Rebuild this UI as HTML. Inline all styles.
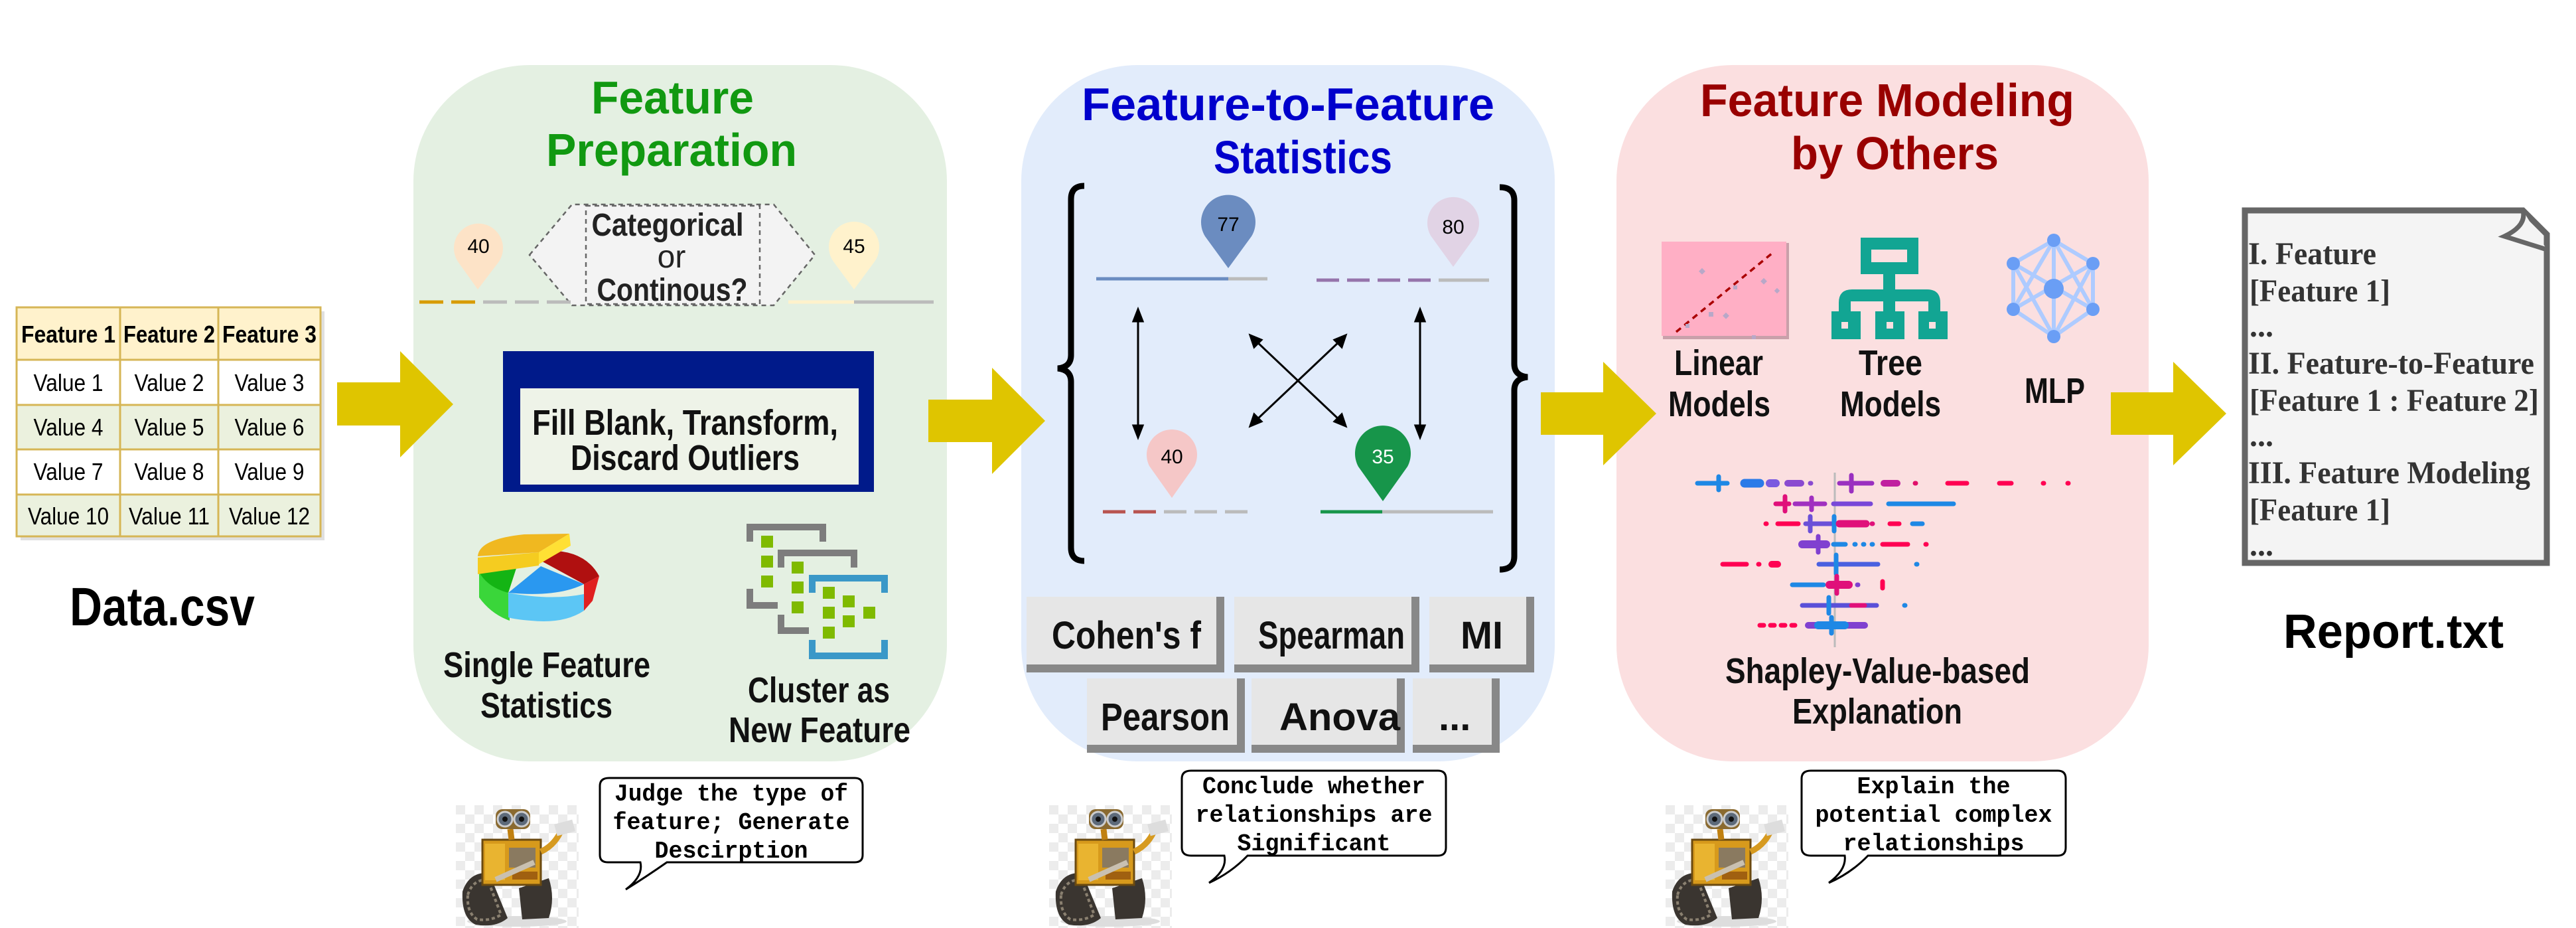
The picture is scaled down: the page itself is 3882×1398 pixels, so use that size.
<!DOCTYPE html>
<html><head><meta charset="utf-8"><style>html,body{margin:0;padding:0;background:#fff}svg{display:block}</style></head>
<body>
<svg xmlns="http://www.w3.org/2000/svg" xmlns:xlink="http://www.w3.org/1999/xlink" width="3882" height="1398" viewBox="0 0 3882 1398">
<defs>
<pattern id="chk" width="28" height="28" patternUnits="userSpaceOnUse"><rect width="28" height="28" fill="#fff"/><rect width="14" height="14" fill="#ececec"/><rect x="14" y="14" width="14" height="14" fill="#ececec"/></pattern>
<g id="robot">
<rect x="0" y="0" width="185" height="185" fill="url(#chk)"/>
<ellipse cx="92" cy="175" rx="75" ry="8" fill="#ddd"/>
<path d="M10 130 Q20 100 50 102 L78 170 Q60 185 30 180 Q8 170 10 130Z" fill="#3a3530"/>
<path d="M18 135 Q25 112 48 112 L68 165 Q52 175 32 172 Q16 162 18 135Z" fill="none" stroke="#8a8070" stroke-width="4" stroke-dasharray="5 4"/>
<path d="M95 125 L140 110 Q150 140 140 170 L100 172Z" fill="#3a3530"/>
<rect x="40" y="52" width="88" height="68" fill="#d79a1c" stroke="#6b4a10" stroke-width="3"/>
<rect x="44" y="58" width="30" height="55" fill="#e9b430"/>
<rect x="80" y="64" width="40" height="30" fill="#8a7a60"/>
<rect x="85" y="100" width="38" height="12" fill="#a06010"/>
<path d="M60 112 L118 86" stroke="#c9c0b0" stroke-width="8"/>
<path d="M128 70 Q150 60 160 35" stroke="#d69a20" stroke-width="9" fill="none"/>
<rect x="150" y="25" width="28" height="18" fill="#ddd" transform="rotate(-15 164 34)"/>
<path d="M84 52 L82 36" stroke="#c08010" stroke-width="9"/>
<rect x="60" y="6" width="52" height="30" rx="10" fill="#8a6a30"/>
<circle cx="74" cy="21" r="11" fill="#5d6a7a" stroke="#ccc" stroke-width="3"/>
<circle cx="99" cy="21" r="11" fill="#5d6a7a" stroke="#ccc" stroke-width="3"/>
<circle cx="74" cy="21" r="4" fill="#111"/><circle cx="99" cy="21" r="4" fill="#111"/>
</g>
</defs>

<!-- Data table -->
<rect x="31" y="469" width="458" height="345" fill="#ccc" opacity="0.6"/>
<rect x="25" y="463" width="458" height="79" fill="#fff2cc"/>
<rect x="25" y="542" width="458" height="68" fill="#fff"/>
<rect x="25" y="610" width="458" height="67" fill="#ebf1de"/>
<rect x="25" y="677" width="458" height="68" fill="#fff"/>
<rect x="25" y="745" width="458" height="63" fill="#ebf1de"/>
<g stroke="#d6b656" stroke-width="3" fill="none">
<rect x="25" y="463" width="458" height="345"/>
<line x1="181" y1="463" x2="181" y2="808"/><line x1="329" y1="463" x2="329" y2="808"/>
<line x1="25" y1="542" x2="483" y2="542"/><line x1="25" y1="610" x2="483" y2="610"/>
<line x1="25" y1="677" x2="483" y2="677"/><line x1="25" y1="745" x2="483" y2="745"/>
</g>
<g font-family="Liberation Sans, sans-serif" font-size="36" text-anchor="middle" fill="#000">
<g font-weight="bold"><text x="103" y="516" textLength="142" lengthAdjust="spacingAndGlyphs">Feature 1</text><text x="255" y="516" textLength="138" lengthAdjust="spacingAndGlyphs">Feature 2</text><text x="406" y="516" textLength="142" lengthAdjust="spacingAndGlyphs">Feature 3</text></g>
<text x="103" y="589" textLength="105" lengthAdjust="spacingAndGlyphs">Value 1</text><text x="255" y="589" textLength="105" lengthAdjust="spacingAndGlyphs">Value 2</text><text x="406" y="589" textLength="105" lengthAdjust="spacingAndGlyphs">Value 3</text>
<text x="103" y="656" textLength="105" lengthAdjust="spacingAndGlyphs">Value 4</text><text x="255" y="656" textLength="105" lengthAdjust="spacingAndGlyphs">Value 5</text><text x="406" y="656" textLength="105" lengthAdjust="spacingAndGlyphs">Value 6</text>
<text x="103" y="723" textLength="105" lengthAdjust="spacingAndGlyphs">Value 7</text><text x="255" y="723" textLength="105" lengthAdjust="spacingAndGlyphs">Value 8</text><text x="406" y="723" textLength="105" lengthAdjust="spacingAndGlyphs">Value 9</text>
<text x="103" y="790" textLength="122" lengthAdjust="spacingAndGlyphs">Value 10</text><text x="255" y="790" textLength="122" lengthAdjust="spacingAndGlyphs">Value 11</text><text x="406" y="790" textLength="122" lengthAdjust="spacingAndGlyphs">Value 12</text>
</g>
<text x="105" y="942" font-family="Liberation Sans, sans-serif" font-weight="bold" font-size="82" textLength="279" lengthAdjust="spacingAndGlyphs">Data.csv</text>

<!-- Panels -->
<rect x="623" y="98" width="804" height="1049" rx="175" fill="#e4f0e2"/>
<rect x="1539" y="98" width="804" height="1049" rx="175" fill="#e2ecfb"/>
<rect x="2436" y="98" width="802" height="1049" rx="175" fill="#fbdfe0"/>

<!-- Arrows -->
<g fill="#dfc500">
<polygon points="508,576 603,576 603,529 683,609 603,689 603,641 508,641"/>
<polygon points="1399,602 1495,602 1495,554 1575,634 1495,714 1495,666 1399,666"/>
<polygon points="2322,591 2416,591 2416,545 2496,623 2416,701 2416,655 2322,655"/>
<polygon points="3181,591 3275,591 3275,545 3355,623 3275,701 3275,655 3181,655"/>
</g>

<g font-family="Liberation Sans, sans-serif" font-weight="bold" font-size="70" text-anchor="start">
<text x="891" y="171" fill="#119911" textLength="245" lengthAdjust="spacingAndGlyphs">Feature</text>
<text x="823" y="250" fill="#119911" textLength="378" lengthAdjust="spacingAndGlyphs">Preparation</text>
<text x="1630" y="181" fill="#0000cc" textLength="622" lengthAdjust="spacingAndGlyphs">Feature-to-Feature</text>
<text x="1829" y="261" fill="#0000cc" textLength="269" lengthAdjust="spacingAndGlyphs">Statistics</text>
<text x="2562" y="175" fill="#990000" textLength="564" lengthAdjust="spacingAndGlyphs">Feature Modeling</text>
<text x="2699" y="255" fill="#990000" textLength="313" lengthAdjust="spacingAndGlyphs">by Others</text>
</g>

<!-- Green panel contents -->
<path d="M720 436 L690 394 A37 37 0 1 1 752 394 Z" fill="#fde3c7"/>
<text x="721" y="381" font-family="Liberation Sans, sans-serif" font-size="30" text-anchor="middle">40</text>
<path d="M1287 436 L1256 394 A38 38 0 1 1 1318 394 Z" fill="#fff2cc"/>
<text x="1287" y="381" font-family="Liberation Sans, sans-serif" font-size="30" text-anchor="middle">45</text>
<polygon points="798,384 862,308 1166,308 1228,384 1166,460 862,460" fill="#f3f3f3" stroke="#666" stroke-width="2.5" stroke-dasharray="7 6"/>
<rect x="883" y="310" width="262" height="148" fill="#f3f3f3" stroke="#666" stroke-width="2.5" stroke-dasharray="7 6"/>
<g font-family="Liberation Sans, sans-serif" font-size="48" fill="#222" text-anchor="middle">
<text x="1006" y="355" font-weight="bold" textLength="229" lengthAdjust="spacingAndGlyphs">Categorical</text>
<text x="1012" y="403">or</text>
<text x="1013" y="453" font-weight="bold" textLength="227" lengthAdjust="spacingAndGlyphs">Continous?</text>
</g>
<g stroke-width="5">
<line x1="632" y1="455" x2="668" y2="455" stroke="#d79b00"/><line x1="680" y1="455" x2="716" y2="455" stroke="#d79b00"/>
<line x1="728" y1="455" x2="764" y2="455" stroke="#bbb"/><line x1="776" y1="455" x2="812" y2="455" stroke="#bbb"/><line x1="824" y1="455" x2="860" y2="455" stroke="#bbb"/>
<line x1="1188" y1="455" x2="1287" y2="455" stroke="#fff2cc"/><line x1="1287" y1="455" x2="1407" y2="455" stroke="#bbb"/>
</g>
<rect x="758" y="529" width="559" height="212" fill="#001a8a"/>
<rect x="784" y="585" width="510" height="145" fill="#eef3e8"/>
<g font-family="Liberation Sans, sans-serif" font-weight="bold" font-size="54" fill="#111" text-anchor="start">
<text x="802" y="655" textLength="461" lengthAdjust="spacingAndGlyphs">Fill Blank, Transform,</text>
<text x="860" y="708" textLength="345" lengthAdjust="spacingAndGlyphs">Discard Outliers</text>
<text x="668" y="1020" textLength="312" lengthAdjust="spacingAndGlyphs">Single Feature</text>
<text x="724" y="1081" textLength="199" lengthAdjust="spacingAndGlyphs">Statistics</text>
<text x="1127" y="1058" textLength="214" lengthAdjust="spacingAndGlyphs">Cluster as</text>
<text x="1098" y="1118" textLength="274" lengthAdjust="spacingAndGlyphs">New Feature</text>
</g>
<!-- pie -->
<g>
<path d="M722 862 L722 900 Q740 925 768 935 L768 895Z" fill="#3ad63a"/>
<path d="M766 893 Q830 905 880 895 L880 920 Q850 940 800 935 Q775 933 766 930Z" fill="#5cc6f5"/>
<path d="M766 893 L815 853 L880 880 Q840 900 766 893Z" fill="#2a98f0"/>
<path d="M722 862 L780 850 L766 893 Q735 885 722 862Z" fill="#14b414"/>
<path d="M880 880 L880 920 L893 905 L903 868 Z" fill="#e02020"/>
<path d="M812 843 L815 830 Q880 825 903 868 L880 880 Z" fill="#b01010"/>
<path d="M720 840 L720 865 L812 852 L812 832 Z" fill="#f5cc20"/>
<path d="M720 838 Q722 812 790 805 L858 804 L812 832 Z" fill="#f0b820"/>
<path d="M812 832 L858 804 L860 822 L812 850Z" fill="#ffe034"/>
</g>
<!-- cluster icon -->
<g fill="none" stroke-width="10">
<path d="M1130 816 L1130 794 L1240 794 L1240 816" stroke="#7d7d7d"/>
<path d="M1130 887 L1130 912 L1172 912" stroke="#7d7d7d"/>
<path d="M1177 855 L1177 833 L1287 833 L1287 855" stroke="#7d7d7d"/>
<path d="M1177 926 L1177 950 L1219 950" stroke="#7d7d7d"/>
<path d="M1224 893 L1224 871 L1333 871 L1333 893" stroke="#3a98c8"/>
<path d="M1224 964 L1224 988 L1333 988 L1333 964" stroke="#3a98c8"/>
</g>
<g fill="#7fba00">
<rect x="1147" y="807" width="18" height="18"/><rect x="1147" y="837" width="18" height="18"/><rect x="1147" y="867" width="18" height="18"/>
<rect x="1193" y="846" width="18" height="18"/><rect x="1193" y="876" width="18" height="18"/><rect x="1193" y="906" width="18" height="18"/>
<rect x="1240" y="884" width="18" height="18"/><rect x="1240" y="914" width="18" height="18"/><rect x="1240" y="944" width="18" height="18"/>
<rect x="1270" y="897" width="18" height="18"/><rect x="1270" y="927" width="18" height="18"/><rect x="1301" y="914" width="18" height="18"/>
</g>

<!-- Blue panel contents -->
<path d="M1634 280 Q1614 280 1614 300 L1614 535 Q1614 553 1594 555 Q1614 557 1614 575 L1614 825 Q1614 845 1634 845" fill="none" stroke="#000" stroke-width="9"/>
<path d="M2260 282 Q2282 282 2282 302 L2282 548 Q2282 566 2302 568 Q2282 570 2282 588 L2282 838 Q2282 858 2260 858" fill="none" stroke="#000" stroke-width="9"/>
<path d="M1851 404 L1816 356 A41 41 0 1 1 1886 356 Z" fill="#6b8cc0"/>
<text x="1851" y="348" font-family="Liberation Sans, sans-serif" font-size="30" text-anchor="middle">77</text>
<line x1="1652" y1="420" x2="1851" y2="420" stroke="#6b8cc0" stroke-width="5"/><line x1="1851" y1="420" x2="1910" y2="420" stroke="#bbb" stroke-width="5"/>
<path d="M2190 402 L2156 355 A39 39 0 1 1 2224 355 Z" fill="#e1d3e5"/>
<text x="2190" y="352" font-family="Liberation Sans, sans-serif" font-size="30" text-anchor="middle">80</text>
<g stroke-width="5"><line x1="1984" y1="422" x2="2018" y2="422" stroke="#9674ab"/><line x1="2030" y1="422" x2="2064" y2="422" stroke="#9674ab"/><line x1="2076" y1="422" x2="2110" y2="422" stroke="#9674ab"/><line x1="2122" y1="422" x2="2156" y2="422" stroke="#9674ab"/><line x1="2168" y1="422" x2="2244" y2="422" stroke="#bbb"/></g>
<path d="M1766 750 L1732 702 A38 38 0 1 1 1800 702 Z" fill="#f5c7c7"/>
<text x="1766" y="698" font-family="Liberation Sans, sans-serif" font-size="30" text-anchor="middle">40</text>
<g stroke-width="5"><line x1="1662" y1="771" x2="1696" y2="771" stroke="#b85450"/><line x1="1708" y1="771" x2="1742" y2="771" stroke="#b85450"/><line x1="1754" y1="771" x2="1788" y2="771" stroke="#bbb"/><line x1="1800" y1="771" x2="1834" y2="771" stroke="#bbb"/><line x1="1846" y1="771" x2="1880" y2="771" stroke="#bbb"/></g>
<path d="M2084 755 L2047 703 A42 42 0 1 1 2121 703 Z" fill="#17954a"/>
<text x="2084" y="698" font-family="Liberation Sans, sans-serif" font-size="30" text-anchor="middle" fill="#fff">35</text>
<line x1="1990" y1="771" x2="2083" y2="771" stroke="#17954a" stroke-width="5"/><line x1="2083" y1="771" x2="2250" y2="771" stroke="#bbb" stroke-width="5"/>
<g stroke="#000" stroke-width="3" fill="#000">
<line x1="1715" y1="478" x2="1715" y2="647"/>
<polygon points="1715,466 1708,484 1722,484"/><polygon points="1715,659 1708,641 1722,641"/>
<line x1="2140" y1="478" x2="2140" y2="647"/>
<polygon points="2140,466 2133,484 2147,484"/><polygon points="2140,659 2133,641 2147,641"/>
<line x1="1892" y1="513" x2="2020" y2="634"/><line x1="2020" y1="513" x2="1892" y2="634"/>
<polygon points="1884,505 1890,523 1901,512"/><polygon points="2028,642 2011,635 2022,624"/>
<polygon points="2028,505 2011,512 2022,523"/><polygon points="1884,642 1890,624 1901,635"/>
</g>
<!-- buttons -->
<g>
<g transform="translate(1547,899)"><rect width="298" height="114" fill="#888"/><rect width="286" height="102" fill="#e6e6e6"/></g>
<g transform="translate(1860,899)"><rect width="279" height="114" fill="#888"/><rect width="267" height="102" fill="#e6e6e6"/></g>
<g transform="translate(2154,899)"><rect width="158" height="114" fill="#888"/><rect width="146" height="102" fill="#e6e6e6"/></g>
<g transform="translate(1638,1022)"><rect width="238" height="112" fill="#888"/><rect width="226" height="100" fill="#e6e6e6"/></g>
<g transform="translate(1886,1022)"><rect width="231" height="112" fill="#888"/><rect width="219" height="100" fill="#e6e6e6"/></g>
<g transform="translate(2129,1022)"><rect width="131" height="112" fill="#888"/><rect width="119" height="100" fill="#e6e6e6"/></g>
</g>
<g font-family="Liberation Sans, sans-serif" font-weight="bold" font-size="58" fill="#111">
<text x="1585" y="977" textLength="225" lengthAdjust="spacingAndGlyphs">Cohen's f</text>
<text x="1896" y="977" textLength="221" lengthAdjust="spacingAndGlyphs">Spearman</text>
<text x="2201" y="977" textLength="64" lengthAdjust="spacingAndGlyphs">MI</text>
<text x="1659" y="1100" textLength="194" lengthAdjust="spacingAndGlyphs">Pearson</text>
<text x="1928" y="1100" textLength="182" lengthAdjust="spacingAndGlyphs">Anova</text>
<text x="2168" y="1100">...</text>
</g>

<!-- Pink panel contents -->
<rect x="2506" y="366" width="190" height="145" fill="#c9a0aa"/>
<rect x="2504" y="364" width="188" height="142" fill="#ffafc5"/>
<line x1="2526" y1="500" x2="2670" y2="382" stroke="#a00" stroke-width="3.5" stroke-dasharray="9 7"/>
<g fill="#b8a8c8"><rect x="2562" y="405" width="7" height="7" transform="rotate(45 2565 408)"/><rect x="2655" y="420" width="7" height="7" transform="rotate(45 2658 423)"/><rect x="2575" y="470" width="7" height="7"/><rect x="2612" y="430" width="6" height="6"/><rect x="2598" y="472" width="7" height="7" transform="rotate(45 2601 475)"/><rect x="2640" y="505" width="6" height="6"/><rect x="2540" y="488" width="6" height="6"/><rect x="2675" y="435" width="6" height="6" transform="rotate(45 2678 438)"/></g>
<g fill="#12a593">
<path d="M2804 358 h87 v55 h-87z M2820 376 v19 h54 v-19z" fill-rule="evenodd"/>
<rect x="2838" y="412" width="18" height="58"/>
<path d="M2771 470 v-14 q0 -20 20 -20 h113 q20 0 20 20 v14 h-18 v-16 h-117 v16z"/>
<path d="M2760 469 h44 v42 h-44z M2775 485 v10 h10 v-10z" fill-rule="evenodd"/>
<path d="M2826 469 h44 v42 h-44z M2843 485 v10 h10 v-10z" fill-rule="evenodd"/>
<path d="M2891 469 h44 v42 h-44z M2907 485 v10 h10 v-10z" fill-rule="evenodd"/>
</g>
<g stroke="#aecbff" stroke-width="6">
<line x1="3095" y1="362" x2="3034" y2="397"/><line x1="3095" y1="362" x2="3154" y2="397"/><line x1="3034" y1="397" x2="3034" y2="466"/><line x1="3154" y1="397" x2="3154" y2="466"/><line x1="3034" y1="466" x2="3095" y2="507"/><line x1="3154" y1="466" x2="3095" y2="507"/>
<line x1="3095" y1="362" x2="3095" y2="507"/><line x1="3034" y1="397" x2="3154" y2="466"/><line x1="3154" y1="397" x2="3034" y2="466"/>
<line x1="3095" y1="362" x2="3034" y2="466"/><line x1="3095" y1="362" x2="3154" y2="466"/><line x1="3034" y1="397" x2="3095" y2="507"/><line x1="3154" y1="397" x2="3095" y2="507"/>
</g>
<g fill="#6a9ef5"><circle cx="3095" cy="362" r="10"/><circle cx="3034" cy="397" r="10"/><circle cx="3154" cy="397" r="10"/><circle cx="3095" cy="435" r="15"/><circle cx="3034" cy="466" r="10"/><circle cx="3154" cy="466" r="10"/><circle cx="3095" cy="507" r="10"/></g>
<g font-family="Liberation Sans, sans-serif" font-weight="bold" font-size="54" fill="#111">
<text x="2523" y="565" textLength="134" lengthAdjust="spacingAndGlyphs">Linear</text>
<text x="2514" y="627" textLength="154" lengthAdjust="spacingAndGlyphs">Models</text>
<text x="2801" y="565" textLength="96" lengthAdjust="spacingAndGlyphs">Tree</text>
<text x="2773" y="627" textLength="152" lengthAdjust="spacingAndGlyphs">Models</text>
<text x="3051" y="607" textLength="91" lengthAdjust="spacingAndGlyphs">MLP</text>
<text x="2600" y="1029" textLength="459" lengthAdjust="spacingAndGlyphs">Shapley-Value-based</text>
<text x="2701" y="1090" textLength="256" lengthAdjust="spacingAndGlyphs">Explanation</text>
</g>
<!-- SHAP -->
<line x1="2765" y1="712" x2="2765" y2="975" stroke="#bbb" stroke-width="3"/>
<g stroke-linecap="round" fill="none">
<g stroke-width="7">
<line x1="2558" y1="728" x2="2603" y2="728" stroke="#1e88e5"/><line x1="2629" y1="728" x2="2652" y2="728" stroke="#2a7ae8" stroke-width="13"/><line x1="2667" y1="728" x2="2676" y2="728" stroke="#7a5ae0" stroke-width="12"/><line x1="2694" y1="728" x2="2714" y2="728" stroke="#8a4ad0" stroke-width="10"/><line x1="2728" y1="728" x2="2729" y2="728" stroke="#8a4ad0"/><line x1="2772" y1="728" x2="2821" y2="728" stroke="#9a30c0"/><line x1="2839" y1="728" x2="2859" y2="728" stroke="#c020a0" stroke-width="10"/><line x1="2886" y1="728" x2="2887" y2="728" stroke="#e0106a"/><line x1="2935" y1="728" x2="2964" y2="728" stroke="#ff0052"/><line x1="3013" y1="728" x2="3031" y2="728" stroke="#ff0052"/><line x1="3079" y1="728" x2="3080" y2="728" stroke="#ff0052"/><line x1="3116" y1="728" x2="3117" y2="728" stroke="#ff0052"/>
<line x1="2590" y1="718" x2="2590" y2="738" stroke="#1e88e5"/><line x1="2790" y1="716" x2="2790" y2="740" stroke="#9a30c0"/>
<line x1="2676" y1="759" x2="2696" y2="759" stroke="#e0107a"/><line x1="2690" y1="748" x2="2690" y2="770" stroke="#e0107a"/><line x1="2705" y1="759" x2="2750" y2="759" stroke="#a030c0"/><line x1="2730" y1="750" x2="2730" y2="768" stroke="#a030c0"/><line x1="2763" y1="759" x2="2819" y2="759" stroke="#7848d8"/><line x1="2846" y1="759" x2="2944" y2="759" stroke="#1e88e5"/>
<line x1="2661" y1="789" x2="2662" y2="789" stroke="#ff0052"/><line x1="2679" y1="789" x2="2710" y2="789" stroke="#ff0052"/><line x1="2721" y1="789" x2="2768" y2="789" stroke="#6a50d8"/><line x1="2728" y1="778" x2="2728" y2="800" stroke="#6a50d8"/><line x1="2764" y1="778" x2="2764" y2="800" stroke="#1e88e5"/><line x1="2772" y1="789" x2="2812" y2="789" stroke="#e0107a" stroke-width="11"/><line x1="2821" y1="789" x2="2822" y2="789" stroke="#e0107a"/><line x1="2848" y1="789" x2="2862" y2="789" stroke="#ff0052"/><line x1="2882" y1="789" x2="2897" y2="789" stroke="#1e88e5"/>
<line x1="2716" y1="820" x2="2752" y2="820" stroke="#8040d0" stroke-width="12"/><line x1="2740" y1="808" x2="2740" y2="832" stroke="#8040d0"/><line x1="2763" y1="820" x2="2781" y2="820" stroke="#1e88e5"/><line x1="2795" y1="820" x2="2824" y2="820" stroke="#1e88e5" stroke-dasharray="1 12"/><line x1="2837" y1="820" x2="2875" y2="820" stroke="#ff0052"/><line x1="2902" y1="820" x2="2903" y2="820" stroke="#ff0052"/>
<line x1="2596" y1="850" x2="2632" y2="850" stroke="#ff0052"/><line x1="2650" y1="850" x2="2651" y2="850" stroke="#ff0052"/><line x1="2670" y1="850" x2="2679" y2="850" stroke="#ff0052" stroke-width="10"/><line x1="2741" y1="850" x2="2830" y2="850" stroke="#4a60e0"/><line x1="2767" y1="836" x2="2767" y2="864" stroke="#1e88e5"/><line x1="2888" y1="850" x2="2889" y2="850" stroke="#1e88e5"/>
<line x1="2701" y1="881" x2="2748" y2="881" stroke="#1e88e5"/><line x1="2757" y1="881" x2="2786" y2="881" stroke="#e0107a" stroke-width="12"/><line x1="2768" y1="868" x2="2768" y2="894" stroke="#e0107a"/><line x1="2799" y1="881" x2="2800" y2="881" stroke="#8040d0"/><line x1="2837" y1="876" x2="2837" y2="886" stroke="#ff0052"/>
<line x1="2716" y1="912" x2="2828" y2="912" stroke="#5a50d8"/><line x1="2756" y1="900" x2="2756" y2="924" stroke="#1e88e5"/><line x1="2790" y1="912" x2="2810" y2="912" stroke="#e0107a"/><line x1="2870" y1="912" x2="2871" y2="912" stroke="#1e88e5"/>
<line x1="2652" y1="942" x2="2705" y2="942" stroke="#ff0052" stroke-dasharray="6 10"/><line x1="2725" y1="942" x2="2810" y2="942" stroke="#8040d0" stroke-width="10"/><line x1="2760" y1="930" x2="2760" y2="954" stroke="#1e88e5"/><line x1="2740" y1="942" x2="2780" y2="942" stroke="#1e88e5" stroke-width="12"/>
</g>
</g>

<!-- Report doc -->
<path d="M3383 317 L3802 317 L3838 353 L3838 848 L3383 848 Z" fill="#f4f4f4" stroke="#666" stroke-width="9"/>
<path d="M3802 317 Q3808 340 3774 356 L3838 376" fill="#f4f4f4" stroke="#666" stroke-width="7"/>
<g font-family="Liberation Serif, serif" font-weight="bold" font-size="48" fill="#333">
<text x="3388" y="398" textLength="193" lengthAdjust="spacingAndGlyphs">I. Feature</text>
<text x="3390" y="454" textLength="212" lengthAdjust="spacingAndGlyphs">[Feature 1]</text>
<text x="3390" y="507">...</text>
<text x="3388" y="563" textLength="431" lengthAdjust="spacingAndGlyphs">II. Feature-to-Feature</text>
<text x="3390" y="619" textLength="436" lengthAdjust="spacingAndGlyphs">[Feature 1 : Feature 2]</text>
<text x="3390" y="672">...</text>
<text x="3388" y="728" textLength="425" lengthAdjust="spacingAndGlyphs">III. Feature Modeling</text>
<text x="3390" y="784" textLength="212" lengthAdjust="spacingAndGlyphs">[Feature 1]</text>
<text x="3390" y="837">...</text>
</g>
<text x="3441" y="976" font-family="Liberation Sans, sans-serif" font-weight="bold" font-size="72" textLength="332" lengthAdjust="spacingAndGlyphs">Report.txt</text>

<!-- Robots -->
<use xlink:href="#robot" x="687" y="1213"/>
<use xlink:href="#robot" x="1581" y="1213"/>
<use xlink:href="#robot" x="2510" y="1213"/>

<!-- Bubbles -->
<g fill="#fff" stroke="#000" stroke-width="3">
<path d="M918 1172 H1288 Q1300 1172 1300 1184 V1288 Q1300 1299 1288 1299 H1005 Q975 1320 943 1340 Q970 1320 965 1299 H916 Q904 1299 904 1288 V1184 Q904 1172 918 1172Z"/>
<path d="M1795 1161 H2167 Q2179 1161 2179 1173 V1277 Q2179 1289 2167 1289 H1880 Q1855 1315 1822 1330 Q1850 1310 1845 1289 H1795 Q1781 1289 1781 1277 V1173 Q1781 1161 1795 1161Z"/>
<path d="M2729 1161 H3101 Q3113 1161 3113 1173 V1277 Q3113 1289 3101 1289 H2815 Q2790 1315 2756 1330 Q2783 1310 2780 1289 H2729 Q2715 1289 2715 1277 V1173 Q2715 1161 2729 1161Z"/>
</g>
<g font-family="Liberation Mono, monospace" font-size="36" font-weight="bold" fill="#000" text-anchor="middle">
<text x="1102" y="1206" textLength="352" lengthAdjust="spacingAndGlyphs">Judge the type of</text>
<text x="1102" y="1249" textLength="357" lengthAdjust="spacingAndGlyphs">feature; Generate</text>
<text x="1102" y="1292" textLength="231" lengthAdjust="spacingAndGlyphs">Descirption</text>
<text x="1980" y="1195" textLength="336" lengthAdjust="spacingAndGlyphs">Conclude whether</text>
<text x="1980" y="1238" textLength="357" lengthAdjust="spacingAndGlyphs">relationships are</text>
<text x="1980" y="1281" textLength="231" lengthAdjust="spacingAndGlyphs">Significant</text>
<text x="2914" y="1195" textLength="231" lengthAdjust="spacingAndGlyphs">Explain the</text>
<text x="2914" y="1238" textLength="357" lengthAdjust="spacingAndGlyphs">potential complex</text>
<text x="2914" y="1281" textLength="273" lengthAdjust="spacingAndGlyphs">relationships</text>
</g>
</svg>
</body></html>
